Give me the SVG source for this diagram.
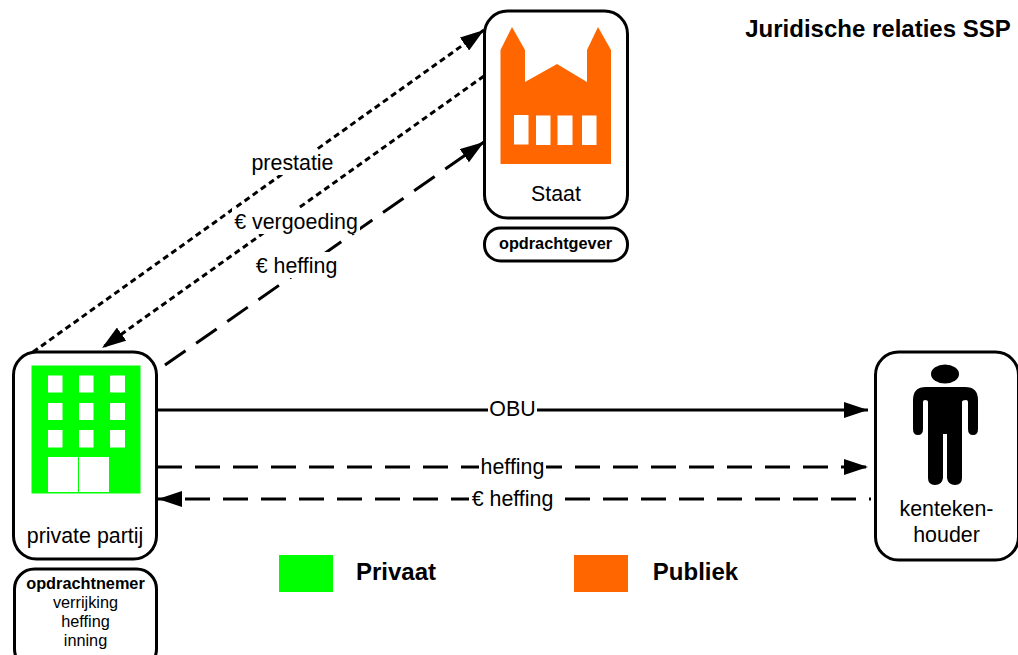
<svg xmlns="http://www.w3.org/2000/svg" width="1018" height="655" viewBox="0 0 1018 655">
<style>
text{font-family:"Liberation Sans",Arial,sans-serif;fill:#000;text-anchor:middle}
.t{font-size:21.400px}
.s{font-size:16.300px}
.b{font-weight:bold}
.box{fill:#fff;stroke:#000;stroke-width:3}
.c{fill:none;stroke:#000;stroke-width:3}
.dot{stroke-dasharray:6 4}
.dash{stroke-dasharray:25 13}
.w{fill:#fff}
.mask{fill:#fff}
.ah{fill:#000}
</style>
<defs>
<marker id="a" viewBox="0 0 24 16" refX="24" refY="8" markerWidth="24" markerHeight="16" markerUnits="userSpaceOnUse" orient="auto"><path class="ah" d="M0 0L24 8L0 16Z"/></marker>
</defs>
<g id="connectors">
<path class="c dot" d="M33 352L484 30" marker-end="url(#a)"/>
<path class="c dot" d="M484 76L102 348" marker-end="url(#a)"/>
<path class="c dash" d="M165 365L484 142" marker-end="url(#a)"/>
<path class="c" d="M157 410L868 410" marker-end="url(#a)"/>
<path class="c dash" d="M157 467L868 467" marker-end="url(#a)"/>
<path class="c dash" stroke-dashoffset="23" d="M871 499L158 499" marker-end="url(#a)"/>
<g id="connector-labels">
<rect class="mask" x="250" y="150" width="86" height="25"/><text class="t" x="292.500" y="170">prestatie</text>
<rect class="mask" x="232" y="208" width="128" height="26"/><text class="t" x="296" y="229">€ vergoeding</text>
<rect class="mask" x="253" y="252" width="88" height="26"/><text class="t" x="296.500" y="273">€ heffing</text>
<rect class="mask" x="488" y="399" width="49" height="22"/><text class="t" x="512.500" y="416">OBU</text>
<rect class="mask" x="479" y="456" width="67" height="22"/><text class="t" x="512.500" y="474">heffing</text>
<rect class="mask" x="469" y="488" width="87" height="22"/><text class="t" x="512.500" y="506">€ heffing</text>
</g>
</g>
<g id="staat">
<rect class="box" x="484.500" y="11" width="143" height="207" rx="23"/>
<path fill="#f60" d="M500.500 50L512 27L525 50V82L557 64L587 82V50L598 27L611 50V164H500.500Z"/>
<path class="w" d="M514 115h14.500v29.500H514zM536 115.500h14.500v29.500H536zM557.500 115.500h15v29.500h-15zM582 115.500h14.500v29.500H582z"/>
<text class="t" x="556" y="201">Staat</text>
</g>
<g id="opdrachtgever">
<rect class="box" x="484.500" y="228" width="143" height="33" rx="16"/>
<text class="s b" x="555.500" y="249">opdrachtgever</text>
</g>
<g id="private-partij">
<rect class="box" x="13.500" y="352" width="143" height="207" rx="23"/>
<rect x="31.500" y="365.500" width="109" height="128" fill="#0f0"/>
<path class="w" d="M48 375.500h14.500v17H48zM79 375.500h14.500v17H79zM110 375.500h15v17h-15zM48 403h14.500v17H48zM79 403h14.500v17H79zM110 403h15v17h-15zM48 430h14.500v17.500H48zM79 430h14.500v17.500H79zM110 430h15v17.500h-15zM48 457h30v35H48zM79 457h30v35H79z"/>
<text class="t" x="85" y="543">private partij</text>
</g>
<g id="opdrachtnemer">
<rect class="box" x="14.500" y="569" width="142" height="100" rx="20"/>
<text class="s b" x="85.500" y="589">opdrachtnemer</text>
<text class="s" x="85.500" y="608">verrijking</text>
<text class="s" x="85.500" y="627">heffing</text>
<text class="s" x="85.500" y="646">inning</text>
</g>
<g id="kentekenhouder">
<rect class="box" x="875.500" y="352" width="143" height="208" rx="23"/>
<ellipse cx="945" cy="374" rx="14" ry="9.500"/>
<path d="M926 387H965Q978 387 978 400V429Q978 435 973 435Q968 435 968 429V402Q968 400 966 400Q962 400 962 402V478Q962 485 955 485Q948 485 947 478V434H943V478Q942 485 935 485Q928 485 928 478V402Q928 400 925 400Q923 400 923 402V429Q923 435 918 435Q913 435 913 429V400Q913 387 926 387Z"/>
<text class="t" x="946.500" y="516">kenteken-</text>
<text class="t" x="946.500" y="542">houder</text>
</g>
<g id="legend">
<rect x="279" y="555" width="54" height="37" fill="#0f0"/>
<text class="b" font-size="24" x="396" y="580">Privaat</text>
<rect x="574" y="555" width="54" height="37" fill="#f60"/>
<text class="b" font-size="24" x="695.500" y="580">Publiek</text>
</g>
<text id="title" class="b" font-size="24" x="878" y="37">Juridische relaties SSP</text>
</svg>
